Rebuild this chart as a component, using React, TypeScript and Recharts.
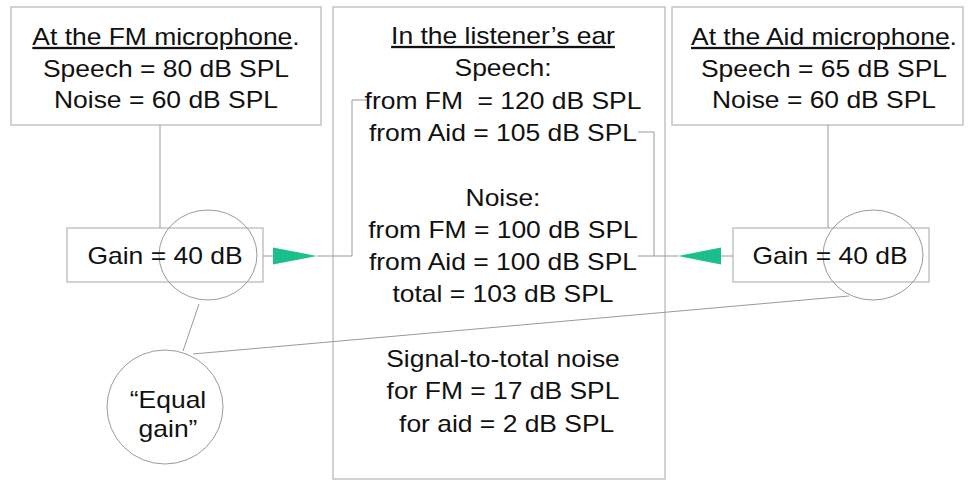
import React from 'react';
import { ComposedChart, XAxis, YAxis, Scatter, ReferenceArea, ReferenceLine } from 'recharts';

const W = 969;
const H = 481;

// Boxes of the diagram
const boxes = [
  { id: 'fmMic', x1: 11, x2: 321, y1: 7, y2: 125 },
  { id: 'ear', x1: 333, x2: 665, y1: 7, y2: 479 },
  { id: 'aidMic', x1: 672, x2: 963, y1: 7, y2: 125 },
  { id: 'fmGain', x1: 67, x2: 263, y1: 228, y2: 282 },
  { id: 'aidGain', x1: 733, x2: 929, y1: 228, y2: 282 },
];

// Connector segments [x1, y1, x2, y2]
const connectors = [
  [160, 125, 160, 228],
  [828, 125, 828, 228],
  [263, 256, 273, 256],
  [317, 256, 352, 256],
  [352, 256, 352, 100],
  [352, 100, 368, 100],
  [638, 132, 654, 132],
  [654, 132, 654, 256],
  [638, 256, 678, 256],
  [721, 256, 733, 256],
  [199, 304, 183, 351],
  [193, 354, 849, 296],
];

// Ellipses (circles)
const ellipses = [
  { x: 208, y: 255, rx: 49, ry: 45 },
  { x: 873, y: 255, rx: 50, ry: 45 },
  { x: 165, y: 407, rx: 58, ry: 57 },
];

// Green arrow heads: tip point + base x + half height
const arrows = [
  { x: 317, y: 256, baseX: 273, half: 8.5 },
  { x: 678, y: 256, baseX: 721, half: 8.5 },
];

type Seg = { t: string; u?: boolean };
type Line = string | Seg[];

const fmMicLines: Line[] = [
  [{ t: 'At the FM microphone', u: true }, { t: '.' }],
  'Speech = 80 dB SPL',
  'Noise = 60 dB SPL',
];
const aidMicLines: Line[] = [
  [{ t: 'At the Aid microphone', u: true }, { t: '.' }],
  'Speech = 65 dB SPL',
  'Noise = 60 dB SPL',
];
const earLines: Line[] = [
  [{ t: 'In the listener’s ear', u: true }],
  'Speech:',
  'from FM  = 120 dB SPL',
  'from Aid = 105 dB SPL',
  '',
  'Noise:',
  'from FM = 100 dB SPL',
  'from Aid = 100 dB SPL',
  'total = 103 dB SPL',
  '',
  'Signal-to-total noise',
  'for FM = 17 dB SPL',
  ' for aid = 2 dB SPL',
];
const gainLines: Line[] = ['Gain = 40 dB'];
const equalLines: Line[] = ['“Equal', 'gain”'];

const textBlocks = [
  { x: 166, y: 45, lh: 31.5, lines: fmMicLines },
  { x: 824, y: 45, lh: 31.5, lines: aidMicLines },
  { x: 503, y: 44, lh: 32.3, lines: earLines },
  { x: 165, y: 264, lh: 30, lines: gainLines },
  { x: 830, y: 264, lh: 30, lines: gainLines },
  { x: 168, y: 408, lh: 29, lines: equalLines },
];

const FONT = 23;
const SX = 1.15;
const LINE_COLOR = '#9a9a9a';
const BOX_COLOR = '#c4c4c4';
const GREEN = '#1bbf8c';

const TextShape = (props: any) => {
  const { cx, cy, payload } = props;
  if (cx == null || cy == null) return null;
  return (
    <g>
      {payload.lines.map((ln: Line, i: number) => {
        if (ln === '') return null;
        const segs: Seg[] = typeof ln === 'string' ? [{ t: ln }] : ln;
        return (
          <text
            key={i}
            transform={`translate(${cx},${cy + i * payload.lh}) scale(${SX},1)`}
            x={0}
            y={0}
            textAnchor="middle"
            fontFamily="'Liberation Sans', Arial, sans-serif"
            fontSize={FONT}
            fill="#111"
            style={{ whiteSpace: 'pre' }}
          >
            {segs.map((s, j) => (
              <tspan key={j} style={s.u ? { textDecoration: 'underline' } : undefined}>
                {s.t}
              </tspan>
            ))}
          </text>
        );
      })}
    </g>
  );
};

const EllipseShape = (props: any) => {
  const { cx, cy, payload } = props;
  if (cx == null || cy == null) return null;
  return <ellipse cx={cx} cy={cy} rx={payload.rx} ry={payload.ry} fill="none" stroke={LINE_COLOR} strokeWidth={1} />;
};

const ArrowShape = (props: any) => {
  const { cx, cy, payload } = props;
  if (cx == null || cy == null) return null;
  const bx = cx + (payload.baseX - payload.x);
  const pts = `${cx},${cy} ${bx},${cy - payload.half} ${bx},${cy + payload.half}`;
  return <polygon points={pts} fill={GREEN} stroke="none" />;
};

export default function App() {
  return (
    <div style={{ position: 'absolute', left: 0, top: 0, width: W, height: H, background: '#fff' }}>
      <ComposedChart width={W} height={H} margin={{ top: 0, right: 0, bottom: 0, left: 0 }}>
        <XAxis type="number" dataKey="x" domain={[0, W]} hide allowDataOverflow />
        <YAxis type="number" dataKey="y" domain={[0, H]} reversed hide allowDataOverflow />
        {boxes.map((b) => (
          <ReferenceArea
            key={b.id}
            x1={b.x1}
            x2={b.x2}
            y1={b.y1}
            y2={b.y2}
            fill="none"
            stroke={BOX_COLOR}
            strokeWidth={1.5}
            ifOverflow="visible"
          />
        ))}
        {connectors.map((c, i) => (
          <ReferenceLine
            key={i}
            segment={[{ x: c[0], y: c[1] }, { x: c[2], y: c[3] }]}
            stroke={LINE_COLOR}
            strokeWidth={1}
            ifOverflow="visible"
          />
        ))}
        <Scatter data={ellipses} shape={EllipseShape} isAnimationActive={false} />
        <Scatter data={arrows} shape={ArrowShape} isAnimationActive={false} />
        <Scatter data={textBlocks} shape={TextShape} isAnimationActive={false} />
      </ComposedChart>
    </div>
  );
}
